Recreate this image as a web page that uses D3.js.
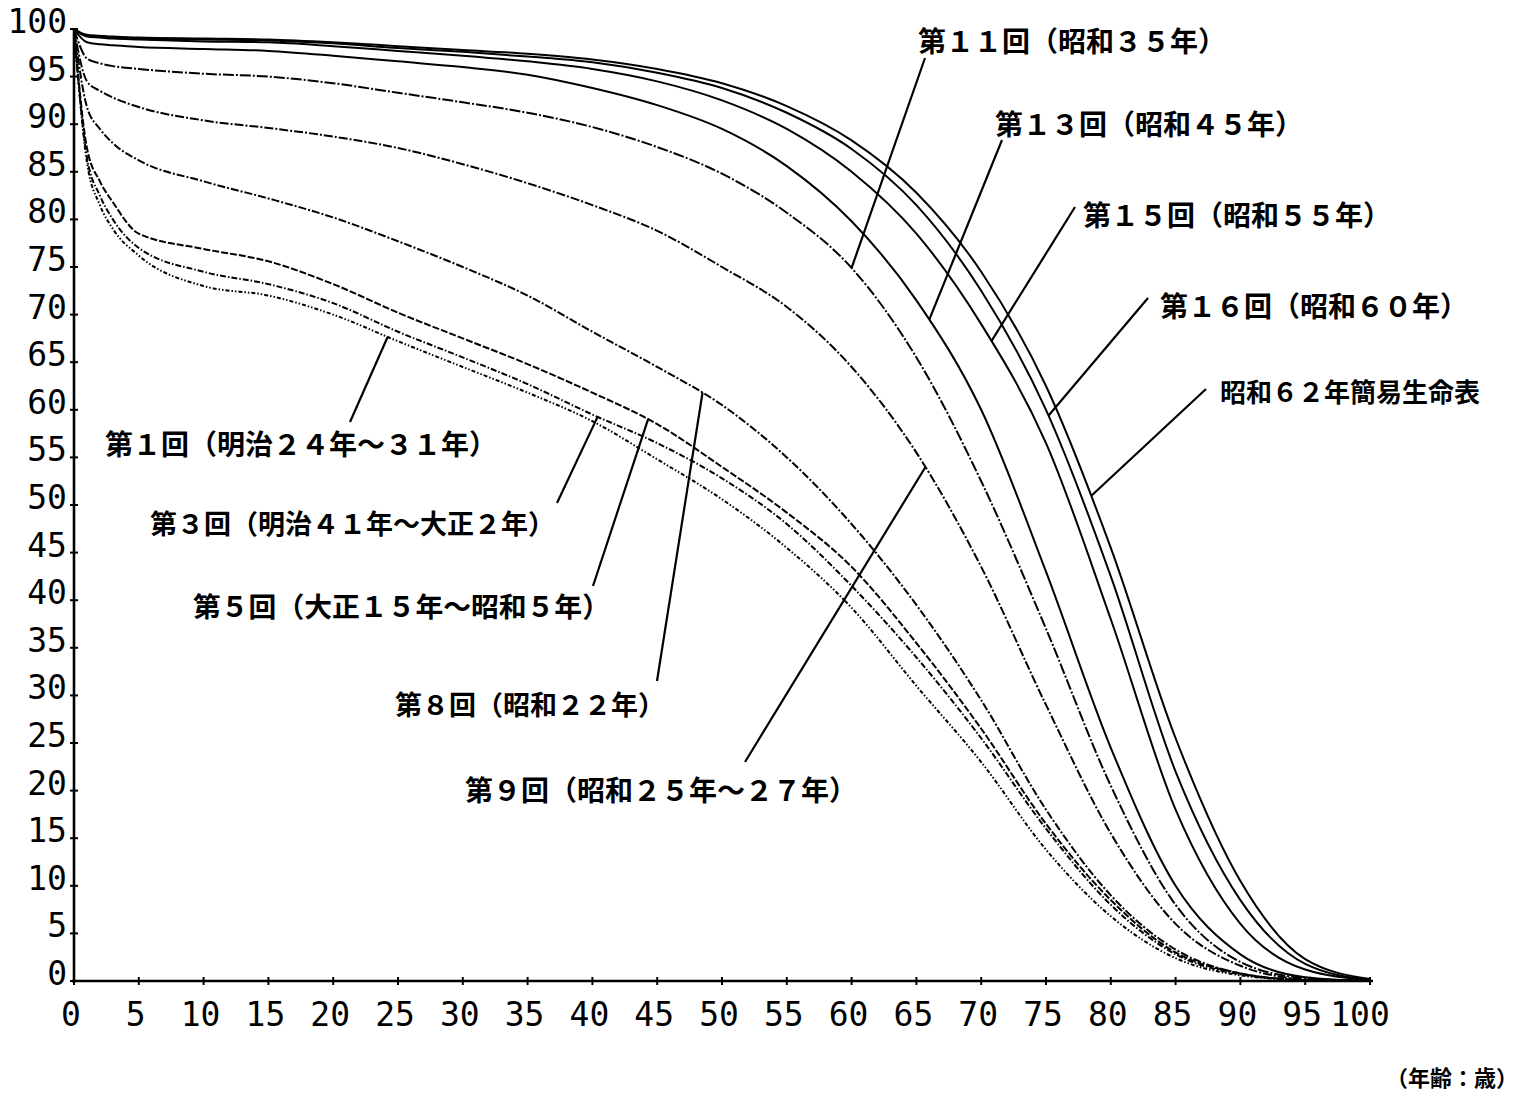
<!DOCTYPE html>
<html><head><meta charset="utf-8">
<script src="https://cdn.jsdelivr.net/npm/d3@7"></script>
<style>
body{margin:0;background:#fff;}
svg{display:block;background:#fff;}
</style>
</head><body>
<svg id="chart" width="1522" height="1093"></svg>
<script>
// ---------------- DATA ----------------
const ages = [0,1,2,3,5,10,15,20,25,30,35,40,45,50,55,60,65,70,75,80,85,90,95,100];

const s01 = [100,86.0,81.5,79.0,76.2,73.0,72.0,70.0,67.2,64.5,61.8,58.8,54.8,50.6,45.5,39.2,31.0,23.0,13.8,6.8,2.4,0.6,0.1,0];
const s03 = [100,86.5,82.5,80.0,77.0,74.5,73.2,71.2,68.2,65.5,62.7,59.5,56.5,52.8,48.0,41.5,34.0,25.5,16.0,8.0,2.8,0.7,0.1,0];
const s05 = [100,87.5,84.0,81.8,78.5,76.9,75.6,73.2,70.2,67.5,64.8,61.8,58.5,54.0,49.2,43.5,35.5,26.5,16.5,8.5,3.0,0.8,0.1,0];
const s08 = [100,91.8,89.5,88.0,86.2,84.0,82.2,80.2,77.7,75.0,72.0,68.2,64.5,60.5,55.0,48.0,39.5,29.5,18.0,9.0,3.3,0.8,0.1,0];
const s09 = [100,94.5,93.5,92.8,91.8,90.4,89.6,88.7,87.5,85.8,83.8,81.5,78.8,75.0,70.8,64.5,55.5,43.5,29.0,15.5,6.0,1.6,0.2,0];
const s11 = [100,96.9,96.4,96.1,95.8,95.3,95.0,94.3,93.3,92.3,91.2,89.7,87.6,84.8,80.7,74.9,65.5,52.5,37.0,20.5,8.0,2.0,0.3,0];
const s13 = [100,98.6,98.4,98.3,98.1,97.9,97.7,97.2,96.6,96.0,95.2,93.8,92.0,89.5,85.6,79.8,71.5,60.0,43.0,24.5,10.0,2.8,0.4,0];
const s15 = [100,99.2,99.1,99.0,98.9,98.7,98.6,98.2,97.7,97.2,96.6,95.8,94.5,92.5,89.5,85.0,78.5,69.0,56.5,38.0,18.0,6.0,1.2,0.1];
const s16 = [100,99.3,99.2,99.1,99.0,98.9,98.8,98.5,98.0,97.6,97.1,96.5,95.4,93.8,91.2,87.4,81.5,72.5,60.0,42.5,22.0,8.5,1.8,0.1];
const s62 = [100,99.4,99.3,99.2,99.1,99.0,98.9,98.6,98.2,97.8,97.4,96.8,95.8,94.3,91.9,88.3,82.8,74.5,62.5,45.5,25.5,10.5,2.3,0.2];

const seriesValues = [s01, s03, s05, s08, s09, s11, s13, s15, s16, s62];
const seriesLabels = [
  "第１回（明治２４年～３１年）",
  "第３回（明治４１年～大正２年）",
  "第５回（大正１５年～昭和５年）",
  "第８回（昭和２２年）",
  "第９回（昭和２５年～２７年）",
  "第１１回（昭和３５年）",
  "第１３回（昭和４５年）",
  "第１５回（昭和５５年）",
  "第１６回（昭和６０年）",
  "昭和６２年簡易生命表"
];
// age at which each label's leader line touches its curve
const leaderAges = [24.2, 40.4, 44.3, 48.5, 65.7, 60.0, 66.0, 70.8, 75.2, 78.5];

const xTickValues = d3.range(0, 101, 5);
const yTickValues = d3.range(0, 101, 5);
const xAxisTitle = "（年齢：歳）";

// ---------------- LAYOUT / STYLE ----------------
const dashes = ["4,2,1.5,2,1.5,2", "6,2,1.5,2", "7,2", "8,2,2,2", "9,2,2,2",
                "11,2,2,2", null, null, null, null];
// label anchor (left x, centre y), leader start point, font size
const labelLayout = [
  {x:105, y:443, lx:350, ly:422, fs:28},
  {x:150, y:522, lx:557, ly:503, fs:27},
  {x:193, y:605, lx:593, ly:586, fs:27.8},
  {x:395, y:703, lx:657, ly:681, fs:27},
  {x:465, y:789, lx:745, ly:762, fs:28},
  {x:918, y:40,  lx:925, ly:58,  fs:28},
  {x:995, y:123, lx:1002, ly:140, fs:28},
  {x:1083, y:214, lx:1075, ly:207, fs:28},
  {x:1160, y:305, lx:1148, ly:298, fs:28},
  {x:1220, y:390, lx:1206, ly:389, fs:26}
];

const svg = d3.select("#chart");
const x = d3.scaleLinear().domain([0, 100]).range([74, 1370]);
const y = d3.scaleLinear().domain([0, 100]).range([981, 29]);

const numFont = "'DejaVu Sans Mono', 'Liberation Mono', monospace";
const jpFont = "'Noto Sans CJK JP', 'Noto Sans CJK SC', sans-serif";

// curves
const line = d3.line().x((d) => x(d[0])).y((d) => y(d[1])).curve(d3.curveMonotoneX);
const gCurves = svg.append("g");
const paths = seriesValues.map((vals, i) => {
  const pts = ages.map((a, k) => [a, vals[k]]);
  return gCurves.append("path")
    .attr("d", line(pts))
    .attr("fill", "none")
    .attr("stroke", "#000")
    .attr("stroke-width", 2)
    .attr("stroke-dasharray", dashes[i])
    .node();
});

// axes
const gAxis = svg.append("g");
gAxis.append("line").attr("x1", x(0)).attr("x2", x(0)).attr("y1", y(100)).attr("y2", y(0) + 2)
  .attr("stroke", "#000").attr("stroke-width", 2.6);
gAxis.append("line").attr("x1", x(0) - 2).attr("x2", x(100) + 3).attr("y1", y(0)).attr("y2", y(0))
  .attr("stroke", "#000").attr("stroke-width", 2.6);

gAxis.selectAll(".yt").data(yTickValues).enter().append("line")
  .attr("x1", x(0) - 4).attr("x2", x(0) + 4)
  .attr("y1", (d) => y(d)).attr("y2", (d) => y(d))
  .attr("stroke", "#000").attr("stroke-width", 2);
gAxis.selectAll(".xt").data(xTickValues).enter().append("line")
  .attr("x1", (d) => x(d)).attr("x2", (d) => x(d))
  .attr("y1", y(0) - 4).attr("y2", y(0) + 4)
  .attr("stroke", "#000").attr("stroke-width", 2);

gAxis.selectAll(".yl").data(yTickValues).enter().append("text")
  .attr("x", 67).attr("y", (d) => y(d) + 4)
  .attr("text-anchor", "end")
  .attr("font-family", numFont).attr("font-size", 33)
  .attr("fill", "#000")
  .text((d) => d);
gAxis.selectAll(".xl").data(xTickValues).enter().append("text")
  .attr("x", (d) => x(d) - (d === 100 ? 10 : 3)).attr("y", 1026)
  .attr("text-anchor", "middle")
  .attr("font-family", numFont).attr("font-size", 33)
  .attr("fill", "#000")
  .text((d) => d);

svg.append("text").attr("x", 1386).attr("y", 1076)
  .attr("dominant-baseline", "central")
  .attr("font-family", jpFont).attr("font-weight", 700).attr("font-size", 22)
  .attr("fill", "#000").text(xAxisTitle);

// annotations
function pointAtX(node, xt) {
  let lo = 0, hi = node.getTotalLength(), p = node.getPointAtLength(0);
  for (let k = 0; k < 40; k++) {
    const mid = (lo + hi) / 2;
    p = node.getPointAtLength(mid);
    if (p.x < xt) lo = mid; else hi = mid;
  }
  return p;
}
const gAnn = svg.append("g");
seriesLabels.forEach((t, i) => {
  const L = labelLayout[i];
  const tip = pointAtX(paths[i], x(leaderAges[i]));
  gAnn.append("line")
    .attr("x1", L.lx).attr("y1", L.ly).attr("x2", tip.x).attr("y2", tip.y)
    .attr("stroke", "#000").attr("stroke-width", 2.2);
  gAnn.append("text")
    .attr("x", L.x).attr("y", L.y)
    .attr("dominant-baseline", "central")
    .attr("font-family", jpFont).attr("font-weight", 700).attr("font-size", L.fs)
    .attr("fill", "#000")
    .text(t);
});
</script>
</body></html>
